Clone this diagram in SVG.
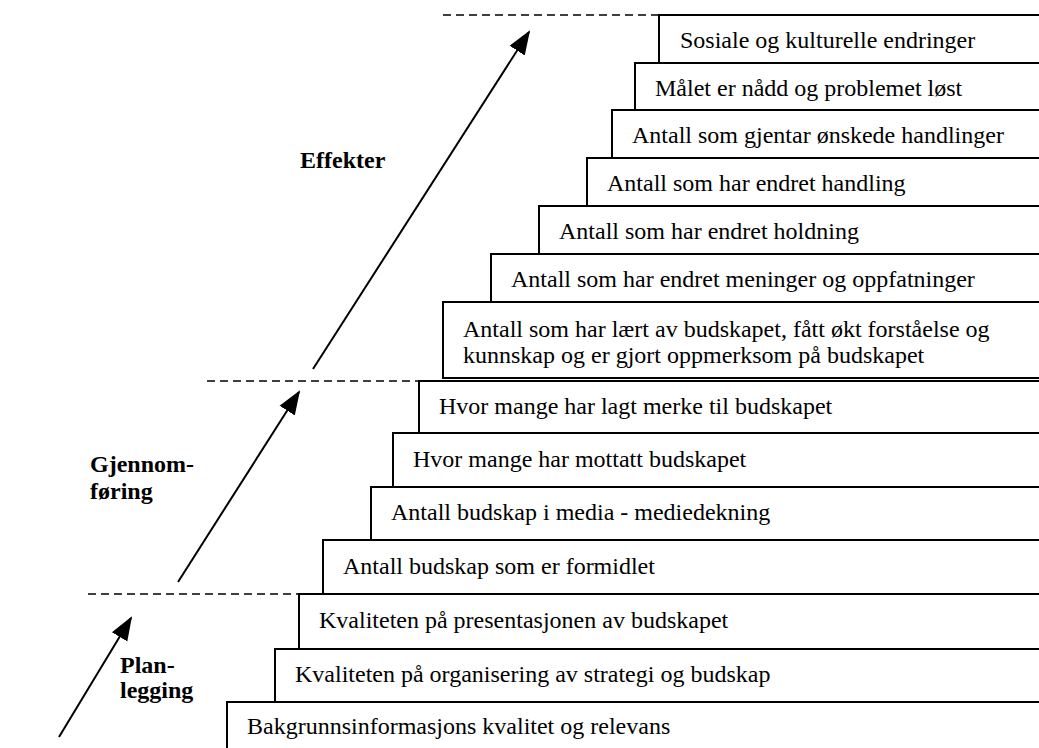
<svg xmlns="http://www.w3.org/2000/svg" width="1039" height="748" viewBox="0 0 1039 748">
  <style>
    .step { fill: #ffffff; stroke: #000000; stroke-width: 2; }
    text { font-family: 'Liberation Serif', 'Times New Roman', Tinos, 'DejaVu Serif', serif; font-size: 24px; fill: #000000; }
    .phase { font-weight: bold; }
    .guide { stroke: #000000; stroke-width: 1.6; stroke-dasharray: 8 5; fill: none; }
    .arrow { stroke: #000000; stroke-width: 2; fill: none; marker-end: url(#head); }
  </style>
  <defs>
    <marker id="head" markerUnits="userSpaceOnUse" markerWidth="24" markerHeight="20" viewBox="0 0 24 20" refX="22" refY="10" orient="auto">
      <path d="M0,1 L24,10 L0,19 Z" fill="#000000"/>
    </marker>
  </defs>

  <!-- phase boundaries -->
  <g id="guides">
    <line class="guide" x1="443" y1="15" x2="659" y2="15"/>
    <line class="guide" x1="207" y1="381" x2="419" y2="381"/>
    <line class="guide" x1="88" y1="594" x2="299" y2="594"/>
  </g>

  <!-- staircase, bottom step first -->
  <g id="step-bakgrunn">
    <rect class="step" x="227" y="702" width="830" height="60"/>
    <text x="247" y="734">Bakgrunnsinformasjons kvalitet og relevans</text>
  </g>
  <g id="step-organisering">
    <rect class="step" x="275" y="649" width="780" height="53"/>
    <text x="295" y="682">Kvaliteten på organisering av strategi og budskap</text>
  </g>
  <g id="step-presentasjon">
    <rect class="step" x="299" y="594" width="760" height="55"/>
    <text x="319" y="628">Kvaliteten på presentasjonen av budskapet</text>
  </g>
  <g id="step-formidlet">
    <rect class="step" x="323" y="540" width="740" height="54"/>
    <text x="343" y="574">Antall budskap som er formidlet</text>
  </g>
  <g id="step-media">
    <rect class="step" x="371" y="487" width="690" height="53"/>
    <text x="391" y="520">Antall budskap i media - mediedekning</text>
  </g>
  <g id="step-mottatt">
    <rect class="step" x="393" y="433" width="670" height="54"/>
    <text x="413" y="467">Hvor mange har mottatt budskapet</text>
  </g>
  <g id="step-lagt-merke">
    <rect class="step" x="419" y="381" width="640" height="52"/>
    <text x="439" y="414">Hvor mange har lagt merke til budskapet</text>
  </g>
  <g id="step-laert">
    <rect class="step" x="443" y="302" width="620" height="76"/>
    <text x="463" y="337">Antall som har lært av budskapet, fått økt forståelse og</text>
    <text x="463" y="363">kunnskap og er gjort oppmerksom på budskapet</text>
  </g>
  <g id="step-meninger">
    <rect class="step" x="491" y="254" width="570" height="48"/>
    <text x="511" y="287">Antall som har endret meninger og oppfatninger</text>
  </g>
  <g id="step-holdning">
    <rect class="step" x="539" y="206" width="520" height="48"/>
    <text x="559" y="239">Antall som har endret holdning</text>
  </g>
  <g id="step-handling">
    <rect class="step" x="587" y="158" width="470" height="48"/>
    <text x="607" y="191">Antall som har endret handling</text>
  </g>
  <g id="step-gjentar">
    <rect class="step" x="612" y="110" width="450" height="48"/>
    <text x="632" y="143">Antall som gjentar ønskede handlinger</text>
  </g>
  <g id="step-maalet">
    <rect class="step" x="635" y="63" width="420" height="47"/>
    <text x="655" y="96">Målet er nådd og problemet løst</text>
  </g>
  <g id="step-sosiale">
    <rect class="step" x="659" y="15" width="400" height="48"/>
    <text x="680" y="48">Sosiale og kulturelle endringer</text>
  </g>

  <!-- phase labels -->
  <g id="phase-effekter">
    <text class="phase" x="300" y="168">Effekter</text>
  </g>
  <g id="phase-gjennomforing">
    <text class="phase" x="90" y="472">Gjennom-</text>
    <text class="phase" x="90" y="499">føring</text>
  </g>
  <g id="phase-planlegging">
    <text class="phase" x="120" y="673">Plan-</text>
    <text class="phase" x="120" y="698">legging</text>
  </g>

  <!-- progress arrows -->
  <g id="connectors">
    <line class="arrow" x1="59" y1="737" x2="131" y2="618"/>
    <line class="arrow" x1="178" y1="582" x2="299" y2="392"/>
    <line class="arrow" x1="313" y1="369" x2="529" y2="32"/>
  </g>
</svg>
